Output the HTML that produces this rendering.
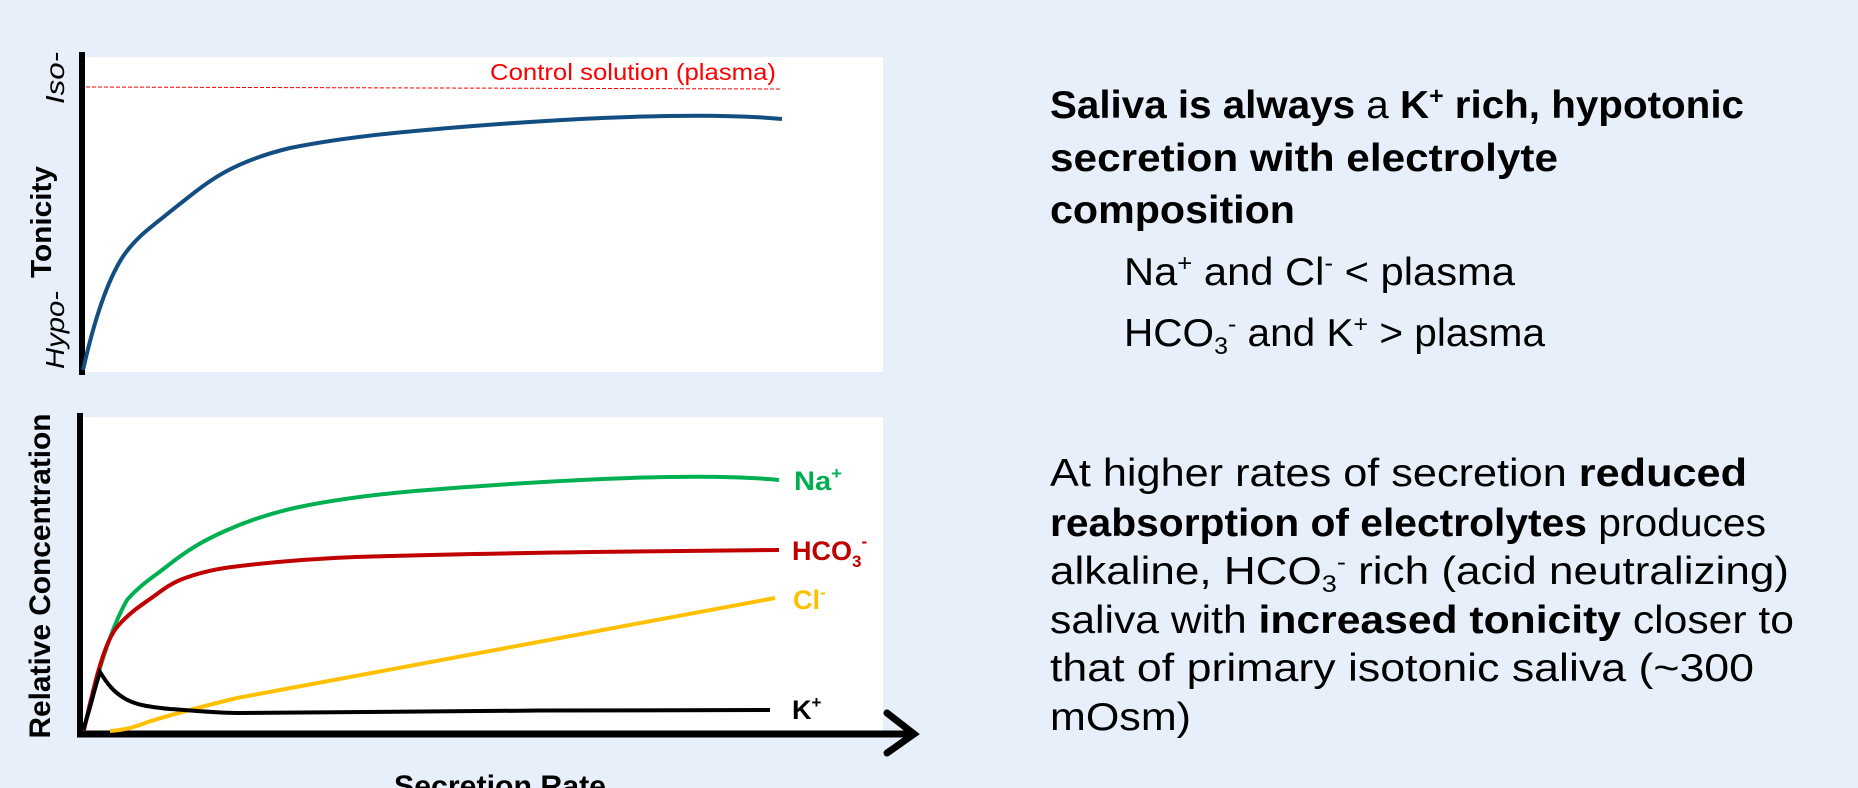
<!DOCTYPE html>
<html><head><meta charset="utf-8"><style>
html,body{margin:0;padding:0;background:#e7f0fa;}
svg{display:block;}
</style></head><body>
<svg width="1858" height="788" viewBox="0 0 1858 788" xmlns="http://www.w3.org/2000/svg">
<rect width="1858" height="788" fill="#e7f0fa"/>
<!-- top panel -->
<rect x="83" y="57" width="800" height="315" fill="#fff"/>
<line x1="82" y1="52" x2="82" y2="375" stroke="#000" stroke-width="6"/>
<line x1="86" y1="87" x2="782" y2="89" stroke="#ff0000" stroke-width="1" stroke-dasharray="4,2"/>
<text x="776" y="80" text-anchor="end" font-family="Liberation Sans, sans-serif" font-size="23" fill="#ff0000" textLength="286" lengthAdjust="spacingAndGlyphs">Control solution (plasma)</text>
<path d="M83,370 C92,330 105,285 122,258 C135,238 150,228 166,215 C190,196 205,183 225,172 C245,161 265,154 290,148 C330,140 370,135 415,131 C500,123 600,117 669,116 C720,115 760,117 782,119" fill="none" stroke="#124e82" stroke-width="4"/>
<text transform="translate(64,78) rotate(-90)" text-anchor="middle" font-family="Liberation Sans, sans-serif" font-style="italic" font-size="26" textLength="52" lengthAdjust="spacingAndGlyphs">Iso-</text>
<text transform="translate(64,330) rotate(-90)" text-anchor="middle" font-family="Liberation Sans, sans-serif" font-style="italic" font-size="26" textLength="78" lengthAdjust="spacingAndGlyphs">Hypo-</text>
<text transform="translate(51,222) rotate(-90)" text-anchor="middle" font-family="Liberation Sans, sans-serif" font-weight="bold" font-size="29" textLength="112" lengthAdjust="spacingAndGlyphs">Tonicity</text>
<!-- bottom panel -->
<rect x="83" y="417" width="800" height="316" fill="#fff"/>
<line x1="80" y1="413" x2="80" y2="737" stroke="#000" stroke-width="6"/>
<line x1="77" y1="734" x2="912" y2="734" stroke="#000" stroke-width="7"/>
<polyline points="887,713 914,734 887,753" fill="none" stroke="#000" stroke-width="7" stroke-linecap="round" stroke-linejoin="miter"/>
<path d="M84,730 C95,680 110,630 127,600 C140,585 152,578 166,567 C190,548 205,540 225,531 C245,522 265,515 290,509 C330,500 370,495 415,491 C500,484 600,478 669,477 C720,476 760,478 779,480" fill="none" stroke="#00b050" stroke-width="4"/>
<path d="M84,730 C95,680 105,640 118,626 C128,614 140,606 150,599 C160,592 168,585 180,580 C200,572 220,568 240,566 C290,560 330,558 355,557 C450,554 520,553 592,552 C680,551 740,550 779,550" fill="none" stroke="#c00000" stroke-width="4"/>
<path d="M110,731 C125,730 135,727 148,722 C170,715 200,707 237,698 L775,598" fill="none" stroke="#ffc000" stroke-width="4"/>
<path d="M83,730 C90,710 94,690 100,672 C108,685 114,692 124,698 C135,705 150,707 170,709 C200,711 220,713 240,713 C400,711 600,710 770,710" fill="none" stroke="#000" stroke-width="4"/>
<text x="794" y="490" font-family="Liberation Sans, sans-serif" font-weight="bold" font-size="27" fill="#00b050" textLength="48" lengthAdjust="spacingAndGlyphs">Na<tspan font-size="17" dy="-11">+</tspan></text>
<text x="792" y="560" font-family="Liberation Sans, sans-serif" font-weight="bold" font-size="27" fill="#c00000">HCO<tspan font-size="17" dy="7">3</tspan><tspan font-size="17" dy="-20">-</tspan></text>
<text x="793" y="609" font-family="Liberation Sans, sans-serif" font-weight="bold" font-size="27" fill="#ffc000">Cl<tspan font-size="17" dy="-11">-</tspan></text>
<text x="792" y="719" font-family="Liberation Sans, sans-serif" font-weight="bold" font-size="27" fill="#000">K<tspan font-size="17" dy="-11">+</tspan></text>
<text transform="translate(50,576) rotate(-90)" text-anchor="middle" font-family="Liberation Sans, sans-serif" font-weight="bold" font-size="30" textLength="325" lengthAdjust="spacingAndGlyphs">Relative Concentration</text>
<text x="500" y="796" text-anchor="middle" font-family="Liberation Sans, sans-serif" font-weight="bold" font-size="30" textLength="212" lengthAdjust="spacingAndGlyphs">Secretion Rate</text>
<!-- right text -->
<g font-family="Liberation Sans, sans-serif" font-size="39" fill="#000">
<text x="1050" y="118" textLength="694" lengthAdjust="spacingAndGlyphs"><tspan font-weight="bold">Saliva is always</tspan> a <tspan font-weight="bold">K<tspan font-size="24" dy="-14">+</tspan><tspan dy="14"> rich, hypotonic</tspan></tspan></text>
<text x="1050" y="171" font-weight="bold" textLength="508" lengthAdjust="spacingAndGlyphs">secretion with electrolyte</text>
<text x="1050" y="223" font-weight="bold" textLength="245" lengthAdjust="spacingAndGlyphs">composition</text>
<text x="1124" y="285" textLength="391" lengthAdjust="spacingAndGlyphs">Na<tspan font-size="24" dy="-14">+</tspan><tspan dy="14"> and Cl</tspan><tspan font-size="24" dy="-14">-</tspan><tspan dy="14"> &lt; plasma</tspan></text>
<text x="1124" y="346" textLength="421" lengthAdjust="spacingAndGlyphs">HCO<tspan font-size="24" dy="8">3</tspan><tspan font-size="24" dy="-22">-</tspan><tspan dy="14"> and K</tspan><tspan font-size="24" dy="-14">+</tspan><tspan dy="14"> &gt; plasma</tspan></text>
<text x="1050" y="486" textLength="697" lengthAdjust="spacingAndGlyphs">At higher rates of secretion <tspan font-weight="bold">reduced</tspan></text>
<text x="1050" y="536" textLength="716" lengthAdjust="spacingAndGlyphs"><tspan font-weight="bold">reabsorption of electrolytes</tspan> produces</text>
<text x="1050" y="584" textLength="739" lengthAdjust="spacingAndGlyphs">alkaline, HCO<tspan font-size="24" dy="8">3</tspan><tspan font-size="24" dy="-22">-</tspan><tspan dy="14"> rich (acid neutralizing)</tspan></text>
<text x="1050" y="633" textLength="744" lengthAdjust="spacingAndGlyphs">saliva with <tspan font-weight="bold">increased tonicity</tspan> closer to</text>
<text x="1050" y="681" textLength="704" lengthAdjust="spacingAndGlyphs">that of primary isotonic saliva (~300</text>
<text x="1050" y="730" textLength="141" lengthAdjust="spacingAndGlyphs">mOsm)</text>
</g>
</svg>
</body></html>
